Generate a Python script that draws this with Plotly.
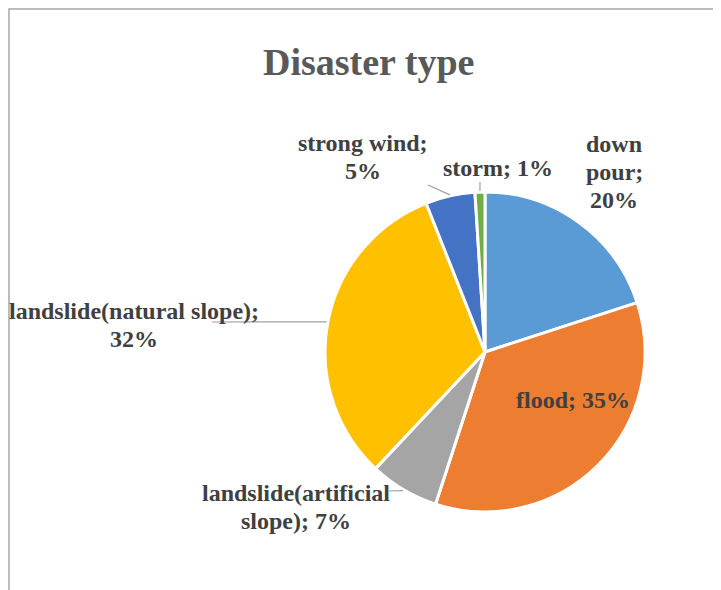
import math

import plotly.graph_objects as go

W, H = 721, 590
# the page puts the figure 8px in from the top-left corner
OFF = 8

labels = ["down pour", "flood", "landslide(artificial slope)",
          "landslide(natural slope)", "strong wind", "storm"]
values = [20, 35, 7, 32, 5, 1]
colors = ["#5B9BD5", "#ED7D31", "#A5A5A5", "#FFC000", "#4472C4", "#70AD47"]

# label text as Excel wrapped it
label_text = ["down<br>pour;<br>20%", "flood; 35%", "landslide(artificial<br>slope); 7%",
              "landslide(natural slope);<br>32%", "strong wind;<br>5%", "storm; 1%"]
# label centres in pixels
label_pos = [(614, 172), (573, 400), (296, 507), (134, 325), (363, 157), (498, 168)]
# leader line ends (None = no leader)
leader_end = [None, None, (389, 491), (212, 322), (428, 185), (480, 182)]

CX, CY, R = 485, 352, 160
FONT = "Liberation Serif, Times New Roman, serif"
LINE_H = 28


def px(x):
    return (x - OFF) / W


def py(y):
    return 1 - (y - OFF) / H


def mid_point(i, r):
    total = sum(values)
    start = sum(values[:i]) / total
    ang = (start + values[i] / total / 2) * 2 * math.pi
    return CX + r * math.sin(ang), CY - r * math.cos(ang)


fig = go.Figure(go.Pie(
    labels=labels,
    values=values,
    sort=False,
    direction="clockwise",
    rotation=0,
    marker=dict(colors=colors, line=dict(color="white", width=3)),
    textinfo="none",
    hoverinfo="label+percent",
    domain=dict(x=[px(CX - R), px(CX + R)], y=[py(CY + R), py(CY - R)]),
    showlegend=False,
))

annotations = [dict(
    text="<b>Disaster type</b>", x=px(368), y=py(62), xref="paper", yref="paper",
    showarrow=False, xanchor="center", yanchor="middle",
    font=dict(family=FONT, size=38, color="#595959"),
)]
for txt, (lx, ly) in zip(label_text, label_pos):
    lines = txt.split("<br>")
    top = ly - LINE_H * (len(lines) - 1) / 2
    for k, line in enumerate(lines):
        annotations.append(dict(
            text="<b>" + line + "</b>", x=px(lx), y=py(top + k * LINE_H),
            xref="paper", yref="paper",
            showarrow=False, xanchor="center", yanchor="middle",
            font=dict(family=FONT, size=24, color="#404040"),
        ))

# chart frame: only its left and top edges fall inside the picture
shapes = [dict(type="rect", xref="paper", yref="paper",
               x0=px(9), x1=px(W + 20), y0=py(H + 20), y1=py(9),
               line=dict(color="#A6A6A6", width=1.5), layer="below")]
for i, end in enumerate(leader_end):
    if end is None:
        continue
    sx, sy = mid_point(i, R + 1)
    shapes.append(dict(type="line", xref="paper", yref="paper",
                       x0=px(sx), y0=py(sy), x1=px(end[0]), y1=py(end[1]),
                       line=dict(color="#A0A0A0", width=1.2)))

fig.update_layout(
    width=W, height=H,
    margin=dict(l=0, r=0, t=0, b=0),
    paper_bgcolor="white",
    plot_bgcolor="white",
    annotations=annotations,
    shapes=shapes,
)

fig.write_html("out.html")
